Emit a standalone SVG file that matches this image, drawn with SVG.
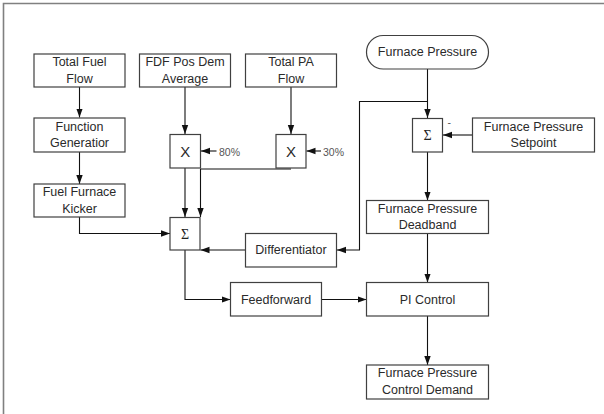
<svg xmlns="http://www.w3.org/2000/svg" width="604" height="414" viewBox="0 0 604 414">
  <style>
    .box { fill: #ffffff; stroke: #404040; stroke-width: 1.2; }
    .lbl { font-family: "Liberation Sans", Arial, sans-serif; font-size: 12.5px; fill: #2a2a2a; text-anchor: middle; dominant-baseline: central; }
    .mul { font-family: "Liberation Sans", Arial, sans-serif; font-size: 15px; fill: #2a2a2a; text-anchor: middle; dominant-baseline: central; }
    .sym { font-family: "Liberation Serif", "Times New Roman", serif; font-size: 14px; fill: #222222; text-anchor: middle; dominant-baseline: central; }
    .pct { font-family: "Liberation Sans", Arial, sans-serif; font-size: 10.5px; fill: #555555; dominant-baseline: central; }
    .wire { fill: none; stroke: #111111; stroke-width: 1.1; }
  </style>
  <defs>
    <marker id="arrow" markerUnits="userSpaceOnUse" markerWidth="10" markerHeight="8" refX="9" refY="4" orient="auto">
      <path d="M0,0.8 L9,4 L0,7.2 Z" fill="#111111"/>
    </marker>
  </defs>

  <rect width="604" height="414" fill="#ffffff"/>
  <!-- page frame -->
  <path d="M3.5,420 L3.5,3.5 L610,3.5" fill="none" stroke="#808080" stroke-width="1.6"/>

  <g id="connectors">
    <path class="wire" d="M79.5,87 L79.5,117.5" marker-end="url(#arrow)"/>
    <path class="wire" d="M79.5,152 L79.5,184" marker-end="url(#arrow)"/>
    <path class="wire" d="M79.5,217 L79.5,233.5 L170,233.5" marker-end="url(#arrow)"/>
    <path class="wire" d="M185,87 L185,134" marker-end="url(#arrow)"/>
    <path class="wire" d="M185,168 L185,217" marker-end="url(#arrow)"/>
    <path class="wire" d="M291,87 L291,134" marker-end="url(#arrow)"/>
    <path class="wire" d="M291,169 L200.5,169 L200.5,217" marker-end="url(#arrow)"/>
    <path class="wire" d="M216.5,151 L201,151" marker-end="url(#arrow)"/>
    <path class="wire" d="M321,151 L306.5,151" marker-end="url(#arrow)"/>
    <path class="wire" d="M427.5,69 L427.5,118" marker-end="url(#arrow)"/>
    <path class="wire" d="M427.5,101.5 L359.5,101.5 L359.5,250 L337,250" marker-end="url(#arrow)"/>
    <path class="wire" d="M245.5,250 L200.5,250" marker-end="url(#arrow)"/>
    <path class="wire" d="M472.5,135 L443,135" marker-end="url(#arrow)"/>
    <path class="wire" d="M427.5,152 L427.5,200.5" marker-end="url(#arrow)"/>
    <path class="wire" d="M427.5,233.5 L427.5,282.5" marker-end="url(#arrow)"/>
    <path class="wire" d="M427.5,316 L427.5,365" marker-end="url(#arrow)"/>
    <path class="wire" d="M185,250 L185,299.5 L230.5,299.5" marker-end="url(#arrow)"/>
    <path class="wire" d="M321.5,299.5 L366.5,299.5" marker-end="url(#arrow)"/>
  </g>

  <g id="total-fuel-flow">
    <rect class="box" x="34" y="54" width="91" height="33"/>
    <text class="lbl" x="79.5" y="61.5">Total Fuel</text>
    <text class="lbl" x="79.5" y="78.5">Flow</text>
  </g>
  <g id="fdf-pos-dem">
    <rect class="box" x="139.5" y="54" width="91" height="33"/>
    <text class="lbl" x="185" y="61.5">FDF Pos Dem</text>
    <text class="lbl" x="185" y="78.5">Average</text>
  </g>
  <g id="total-pa-flow">
    <rect class="box" x="245.5" y="54" width="91" height="33"/>
    <text class="lbl" x="291" y="61.5">Total PA</text>
    <text class="lbl" x="291" y="78.5">Flow</text>
  </g>
  <g id="furnace-pressure">
    <rect class="box" x="366.5" y="35.5" width="122" height="33.5" rx="16.7" ry="16.7"/>
    <text class="lbl" x="427.5" y="52">Furnace Pressure</text>
  </g>
  <g id="function-generator">
    <rect class="box" x="34" y="118" width="91" height="34"/>
    <text class="lbl" x="79.5" y="126.5">Function</text>
    <text class="lbl" x="79.5" y="143">Generatior</text>
  </g>
  <g id="mult-fdf">
    <rect class="box" x="170" y="134.5" width="30.5" height="33.5"/>
    <text class="mul" x="185.3" y="151">X</text>
    <text class="pct" x="219" y="151.5">80%</text>
  </g>
  <g id="mult-pa">
    <rect class="box" x="276" y="134.5" width="30" height="33.5"/>
    <text class="mul" x="291" y="151">X</text>
    <text class="pct" x="323" y="151.5">30%</text>
  </g>
  <g id="sum-pressure">
    <rect class="box" x="412.5" y="118.5" width="30" height="33.5"/>
    <text class="sym" x="427.5" y="135">Σ</text>
    <text class="pct" x="447.5" y="122">-</text>
  </g>
  <g id="pressure-setpoint">
    <rect class="box" x="472.5" y="118" width="122" height="34"/>
    <text class="lbl" x="533.5" y="126.5">Furnace Pressure</text>
    <text class="lbl" x="533.5" y="143">Setpoint</text>
  </g>
  <g id="fuel-furnace-kicker">
    <rect class="box" x="34" y="184" width="91" height="33"/>
    <text class="lbl" x="79.5" y="192">Fuel Furnace</text>
    <text class="lbl" x="79.5" y="209">Kicker</text>
  </g>
  <g id="sum-feedforward">
    <rect class="box" x="170" y="217.5" width="30" height="32.5"/>
    <text class="sym" x="185" y="234">Σ</text>
  </g>
  <g id="differentiator">
    <rect class="box" x="245.5" y="233.5" width="91" height="33.5"/>
    <text class="lbl" x="291" y="250">Differentiator</text>
  </g>
  <g id="feedforward">
    <rect class="box" x="230.5" y="282.5" width="91" height="33.5"/>
    <text class="lbl" x="276" y="299.5">Feedforward</text>
  </g>
  <g id="pressure-deadband">
    <rect class="box" x="366.5" y="200.5" width="122" height="33"/>
    <text class="lbl" x="427.5" y="208.5">Furnace Pressure</text>
    <text class="lbl" x="427.5" y="224.5">Deadband</text>
  </g>
  <g id="pi-control">
    <rect class="box" x="366.5" y="282.5" width="122" height="33.5"/>
    <text class="lbl" x="427.5" y="299.5">PI Control</text>
  </g>
  <g id="control-demand">
    <rect class="box" x="366.5" y="365" width="122" height="34"/>
    <text class="lbl" x="427.5" y="373">Furnace Pressure</text>
    <text class="lbl" x="427.5" y="390">Control Demand</text>
  </g>
</svg>
